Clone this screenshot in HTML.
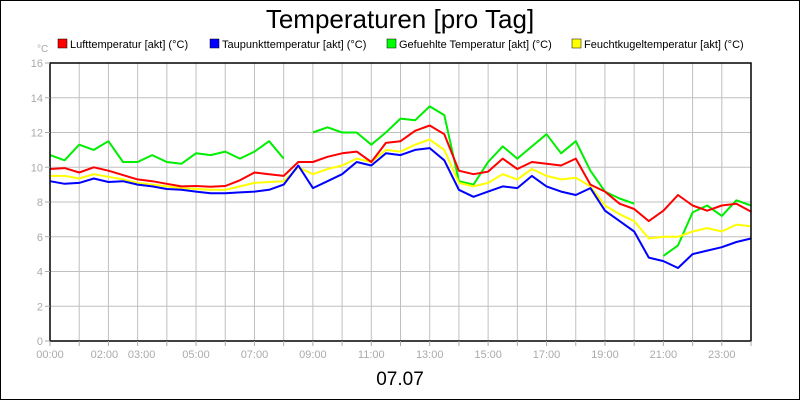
<!DOCTYPE html>
<html><head><meta charset="utf-8"><style>
body{margin:0;background:#fff}
svg{display:block;font-family:"Liberation Sans",sans-serif}
</style></head><body>
<svg id="chart" width="800" height="400" viewBox="0 0 800 400">
<rect x="0.5" y="0.5" width="799" height="399" fill="#fff" stroke="#000"/>
<text x="400" y="28" font-size="26" text-anchor="middle" fill="#000">Temperaturen [pro Tag]</text>
<text x="37" y="52" font-size="10" fill="#aaa">°C</text>
<g font-size="11">
<g><rect x="58" y="39" width="9" height="9" fill="#f00" stroke="#000" stroke-width="0.5"/><text x="70" y="48">Lufttemperatur [akt] (°C)</text></g>
<g><rect x="210" y="39" width="9" height="9" fill="#00f" stroke="#000" stroke-width="0.5"/><text x="222" y="48">Taupunkttemperatur [akt] (°C)</text></g>
<g><rect x="387" y="39" width="9" height="9" fill="#0f0" stroke="#000" stroke-width="0.5"/><text x="399" y="48">Gefuehlte Temperatur [akt] (°C)</text></g>
<g><rect x="572" y="39" width="9" height="9" fill="#ff0" stroke="#000" stroke-width="0.5"/><text x="584" y="48">Feuchtkugeltemperatur [akt] (°C)</text></g>
</g>
<g id="grid"></g>
<g id="series"></g>
<rect x="50" y="63" width="701" height="278" fill="none" stroke="#000" stroke-width="1.5"/>
<g id="axes"></g>
<text x="400" y="385" font-size="19" text-anchor="middle" fill="#000">07.07</text>
</svg>
<script>
const times = [0,0.5,1,1.5,2,2.5,3,3.5,4,4.5,5,5.5,6,6.5,7,7.5,8,8.5,9,9.5,10,10.5,11,11.5,12,12.5,13,13.5,14,14.5,15,15.5,16,16.5,17,17.5,18,18.5,19,19.5,20,20.5,21,21.5,22,22.5,23,23.5,24];
const luft = [9.9,9.95,9.7,10.0,9.8,9.55,9.3,9.2,9.05,8.9,8.92,8.88,8.92,9.25,9.7,9.6,9.5,10.3,10.3,10.6,10.8,10.9,10.3,11.4,11.5,12.1,12.4,11.9,9.8,9.6,9.75,10.5,9.9,10.3,10.2,10.1,10.5,9.0,8.6,7.9,7.6,6.9,7.5,8.4,7.8,7.5,7.8,7.9,7.45];
const taupunkt = [9.2,9.05,9.1,9.35,9.15,9.2,9.0,8.9,8.75,8.7,8.6,8.5,8.5,8.55,8.6,8.7,9.0,10.1,8.8,9.2,9.6,10.3,10.1,10.8,10.7,11.0,11.1,10.4,8.7,8.3,8.6,8.9,8.8,9.5,8.9,8.6,8.4,8.8,7.5,6.9,6.3,4.8,4.6,4.2,5.0,5.2,5.4,5.7,5.9];
const gefuehlt = [10.7,10.4,11.3,11.0,11.5,10.3,10.3,10.7,10.3,10.2,10.8,10.7,10.9,10.5,10.9,11.5,10.5,null,12.0,12.3,12.0,12.0,11.3,12.0,12.8,12.7,13.5,13.0,9.2,9.0,10.3,11.2,10.5,11.2,11.9,10.8,11.5,9.8,8.6,8.2,7.9,null,4.9,5.5,7.4,7.8,7.2,8.1,7.8];
const feucht = [9.5,9.5,9.35,9.6,9.45,9.3,9.1,9.0,8.9,8.8,8.75,8.7,8.7,8.9,9.1,9.15,9.2,10.0,9.6,9.9,10.1,10.5,10.3,11.0,10.9,11.3,11.6,11.0,9.1,8.9,9.1,9.6,9.3,9.9,9.5,9.3,9.4,8.9,7.8,7.3,6.9,5.9,6.0,6.0,6.3,6.5,6.3,6.7,6.6];
const yTicks = [0,2,4,6,8,10,12,14,16];
const xTickLabels = ["00:00","02:00","03:00","05:00","07:00","09:00","11:00","13:00","15:00","17:00","19:00","21:00","23:00"];
const xTickHours = [0,2,3,5,7,9,11,13,15,17,19,21,23];

const NS="http://www.w3.org/2000/svg";
const X0=50,X1=751,Y0=341,Y1=63;
function xs(h){return X0+(X1-X0)*h/24;}
function ys(v){return Y0-(Y0-Y1)*v/16;}
function mk(tag,attrs,parent){const e=document.createElementNS(NS,tag);for(const k in attrs)e.setAttribute(k,attrs[k]);parent.appendChild(e);return e;}
const grid=document.getElementById('grid'),axes=document.getElementById('axes'),series=document.getElementById('series');
for(let h=1;h<24;h++){
  const l=mk('line',{x1:xs(h),x2:xs(h),y1:Y1,y2:Y0,stroke:'#c0c0c0'},grid);
  
  
}
for(let h=0;h<=24;h++){
  const t=mk('line',{x1:xs(h),x2:xs(h),y1:Y0,y2:Y0+5,stroke:'#aaa'},axes);
  
  
}
yTicks.forEach(v=>{
  if(v>0&&v<16){const g=mk('line',{x1:X0,x2:X1,y1:ys(v),y2:ys(v),stroke:'#c0c0c0'},grid);
  
  }
  const t=mk('line',{x1:X0-5,x2:X0,y1:ys(v),y2:ys(v),stroke:'#aaa'},axes);
  
  
  const tx=mk('text',{x:X0-7,y:ys(v)+4,'font-size':11,'text-anchor':'end',fill:'#aaa'},axes);
  tx.textContent=v;
  
  
});
xTickHours.forEach((h,i)=>{
  let x=xs(h);
  if(h===2)x-=4; if(h===3)x+=4;
  const tx=mk('text',{x:x,y:358,'font-size':11,'text-anchor':'middle',fill:'#aaa'},axes);
  tx.textContent=xTickLabels[i];
  
  
});
function draw(vals,color,name){
  let d='',pen=false;
  vals.forEach((v,i)=>{
    if(v===null){pen=false;return;}
    d+=(pen?'L':'M')+xs(times[i]).toFixed(1)+' '+ys(v).toFixed(1)+' ';pen=true;
  });
  const p=mk('path',{d:d,fill:'none',stroke:color,'stroke-width':2,'stroke-linejoin':'round'},series);
  
  
}
draw(gefuehlt,'#00ee00','line-gefuehlte-temperatur');
draw(feucht,'#ffff00','line-feuchtkugeltemperatur');
draw(taupunkt,'#0000ff','line-taupunkttemperatur');
draw(luft,'#ff0000','line-lufttemperatur');
</script>
</body></html>
